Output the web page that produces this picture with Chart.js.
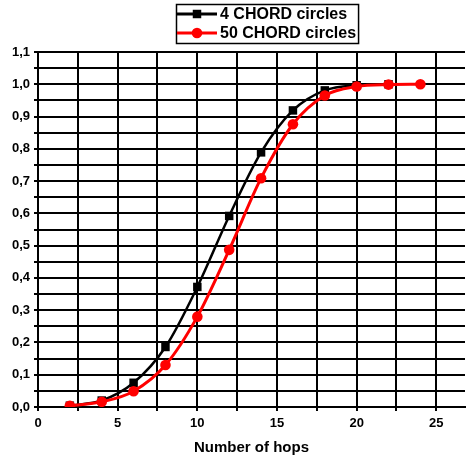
<!DOCTYPE html>
<html>
<head>
<meta charset="utf-8">
<script src="https://cdn.jsdelivr.net/npm/chart.js@4/dist/chart.umd.min.js"></script>
<style>
  html, body { margin: 0; padding: 0; background: #fff; }
  canvas { display: block; }
</style>
</head>
<body>
<canvas id="myChart" width="471" height="461"></canvas>
<script>
// values
var hops4 = [2, 4, 6, 8, 10, 12, 14, 16, 18, 20, 22];
var cdf4 = [0.004, 0.02, 0.075, 0.186, 0.372, 0.592, 0.789, 0.919, 0.981, 0.997, 1.0];
var hops50 = [2, 4, 6, 8, 10, 12, 14, 16, 18, 20, 22, 24];
var cdf50 = [0.004, 0.016, 0.049, 0.13, 0.28, 0.487, 0.709, 0.876, 0.965, 0.993, 0.999, 1.0];
var seriesNames = ['4 CHORD circles', '50 CHORD circles'];
var xTitle = 'Number of hops';

var FONT = '"Liberation Sans", Arial, sans-serif';

function toPoints(xs, ys) {
    var pts = [];
    for (let i = 0; i < xs.length; i++) pts.push({ x: xs[i], y: ys[i] });
    return pts;
}

// legend box with line + marker, like the origin plot
var boxLegend = {
    id: 'boxLegend',
    afterDraw: function (chart) {
        var ctx = chart.ctx;
        var ds = chart.data.datasets;
        ctx.save();
        ctx.font = 'bold 16px ' + FONT;
        var left = 176, top = 4, rowH = 19;
        var textX = left + 44;
        var maxW = 0;
        ds.forEach(function (d) { maxW = Math.max(maxW, ctx.measureText(d.label).width); });
        ctx.lineWidth = 1.5;
        ctx.strokeStyle = '#000';
        ctx.strokeRect(left + 0.5, top + 0.5, textX + maxW + 2 - left, rowH * 2 + 1);
        ds.forEach(function (d, i) {
            var y = top + 10 + i * rowH;
            ctx.strokeStyle = d.borderColor;
            ctx.lineWidth = 3;
            ctx.beginPath();
            ctx.moveTo(left + 1, y);
            ctx.lineTo(left + 41, y);
            ctx.stroke();
            ctx.fillStyle = d.borderColor;
            Chart.helpers.drawPoint(ctx, { pointStyle: d.pointStyle, radius: d.pointRadius, borderWidth: 0 }, left + 21, y);
            ctx.fillStyle = '#000';
            ctx.textBaseline = 'middle';
            ctx.textAlign = 'left';
            ctx.fillText(d.label, textX, y + 1);
        });
        ctx.restore();
    }
};

var ctx = document.getElementById('myChart').getContext('2d');
var myChart = new Chart(ctx, {
    type: 'line',
    data: {
        datasets: [{
            label: seriesNames[0],
            data: toPoints(hops4, cdf4),
            borderColor: '#000000',
            backgroundColor: '#000000',
            borderWidth: 2.5,
            pointStyle: 'rect',
            pointRadius: 6,
            pointBorderWidth: 0,
            cubicInterpolationMode: 'monotone',
            order: 2
        }, {
            label: seriesNames[1],
            data: toPoints(hops50, cdf50),
            borderColor: '#ff0000',
            backgroundColor: '#ff0000',
            borderWidth: 3,
            pointStyle: 'circle',
            pointRadius: 5.3,
            pointBorderWidth: 0,
            cubicInterpolationMode: 'monotone',
            order: 1
        }]
    },
    options: {
        responsive: false,
        animation: false,
        devicePixelRatio: 1,
        layout: { padding: { top: 52, left: 0, right: 0, bottom: 0 } },
        plugins: {
            legend: { display: false },
            tooltip: { enabled: false }
        },
        scales: {
            x: {
                type: 'linear',
                min: 0,
                max: 26.8,
                afterFit: function (s) { s.height = 54; },
                border: { color: '#000', width: 2 },
                grid: { color: '#000', lineWidth: 2, tickLength: 4 },
                ticks: {
                    stepSize: 2.5,
                    includeBounds: false,
                    autoSkip: false,
                    maxRotation: 0,
                    padding: 5,
                    color: '#000',
                    font: { family: FONT, size: 13, weight: 'bold' },
                    callback: function (v) { return v % 5 === 0 ? String(v) : ''; }
                },
                title: {
                    display: true,
                    text: xTitle,
                    color: '#000',
                    font: { family: FONT, size: 15, weight: 'bold' },
                    padding: { top: 0, bottom: 4 }
                }
            },
            y: {
                min: 0,
                max: 1.1,
                afterFit: function (s) { s.width = 38; },
                border: { color: '#000', width: 2 },
                grid: { color: '#000', lineWidth: 2, tickLength: 4 },
                ticks: {
                    stepSize: 0.05,
                    autoSkip: false,
                    padding: 4,
                    color: '#000',
                    font: { family: FONT, size: 13, weight: 'bold' },
                    callback: function (v) {
                        var k = Math.round(v * 100);
                        return k % 10 === 0 ? (k / 100).toFixed(1).replace('.', ',') : '';
                    }
                }
            }
        }
    },
    plugins: [boxLegend]
});
</script>
</body>
</html>
